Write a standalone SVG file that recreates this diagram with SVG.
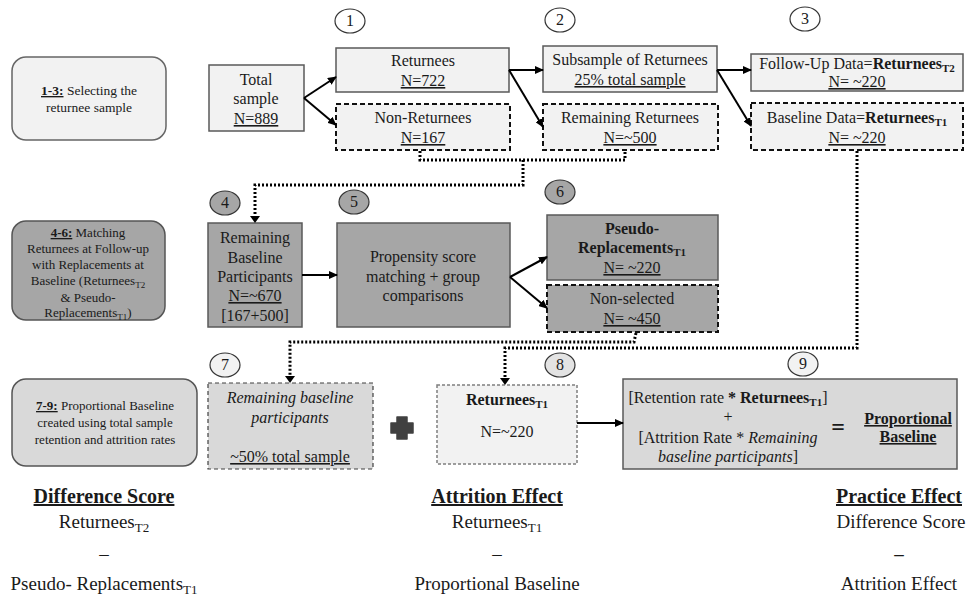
<svg xmlns="http://www.w3.org/2000/svg" width="977" height="596" viewBox="0 0 977 596" font-family="'Liberation Serif', 'Times New Roman', serif">
<defs>
<marker id="ah" markerUnits="userSpaceOnUse" markerWidth="9" markerHeight="8" refX="8" refY="4" orient="auto"><path d="M0,0 L9,4 L0,8 z" fill="#000"/></marker>
<style>
text{font-family:'Liberation Serif','Times New Roman',serif;fill:#1a1a1a;text-anchor:middle}
.t16{font-size:16px;font-family:'Liberation Serif',serif}
.t13{font-size:13px;font-family:'Liberation Serif',serif}
.b{font-weight:bold}
.i{font-style:italic}
.u{text-decoration:underline}
.box{stroke:#595959;stroke-width:1.5}
.dash{stroke:#111;stroke-width:2;stroke-dasharray:5 3}
.light{fill:#f2f2f2}
.mid{fill:#a6a6a6}
.pale{fill:#d9d9d9}
.circ{stroke:#333;stroke-width:1.2}
.arrow{stroke:#000;stroke-width:2;fill:none;marker-end:url(#ah)}
.dot{stroke:#000;stroke-width:3;stroke-dasharray:2 2;fill:none}
.big{font-size:20px;font-weight:bold;font-family:'Liberation Serif',serif}
.reg{font-size:19px;font-family:'Liberation Serif',serif}
</style>
</defs>

<!-- Row labels -->
<g id="label13">
<rect x="12" y="57" width="154" height="83" rx="14" class="light" stroke="#666" stroke-width="1.5"/>
<text x="89" y="95" style="font-size:13.5px"><tspan class="b u">1-3:</tspan> Selecting the</text>
<text x="89" y="112" style="font-size:13.5px">returnee sample</text>
</g>
<g id="label46">
<rect x="12" y="221" width="153" height="99" rx="14" class="mid" stroke="#555" stroke-width="1.5"/>
<text x="88" y="237" class="t13"><tspan class="b u">4-6:</tspan> Matching</text>
<text x="88" y="253" class="t13">Returnees at Follow-up</text>
<text x="88" y="269" class="t13">with Replacements at</text>
<text x="88" y="285" class="t13">Baseline (Returnees<tspan style="font-size:9px" dy="3">T2</tspan></text>
<text x="88" y="302" class="t13">&amp; Pseudo-</text>
<text x="88" y="317" class="t13">Replacements<tspan style="font-size:9px" dy="3">T1</tspan><tspan dy="-3">)</tspan></text>
</g>
<g id="label79">
<rect x="12" y="379" width="185" height="87" rx="14" class="pale" stroke="#555" stroke-width="1.5"/>
<text x="105" y="410" class="t13"><tspan class="b u">7-9:</tspan> Proportional Baseline</text>
<text x="105" y="427" class="t13">created using total sample</text>
<text x="105" y="444" class="t13">retention and attrition rates</text>
</g>

<!-- Step circles -->
<g id="circles">
<ellipse cx="350" cy="21" rx="15" ry="12" fill="#fff" class="circ"/><text x="350" y="26" class="t16">1</text>
<ellipse cx="560" cy="20" rx="15" ry="12" fill="#fff" class="circ"/><text x="560" y="25" class="t16">2</text>
<ellipse cx="805" cy="19" rx="15" ry="12" fill="#fff" class="circ"/><text x="805" y="24" class="t16">3</text>
<ellipse cx="225" cy="203" rx="15" ry="12" class="mid circ"/><text x="225" y="208" class="t16">4</text>
<ellipse cx="354" cy="202" rx="15" ry="12" class="mid circ"/><text x="354" y="207" class="t16">5</text>
<ellipse cx="560" cy="192" rx="15" ry="12" class="mid circ"/><text x="560" y="197" class="t16">6</text>
<ellipse cx="225" cy="365" rx="15" ry="12" fill="#f2f2f2" class="circ"/><text x="225" y="370" class="t16">7</text>
<ellipse cx="560" cy="365" rx="15" ry="12" fill="#e3e3e3" class="circ"/><text x="560" y="370" class="t16">8</text>
<ellipse cx="803" cy="364" rx="15" ry="12" fill="#f2f2f2" class="circ"/><text x="803" y="369" class="t16">9</text>
</g>

<!-- Row 1 nodes -->
<g id="total">
<rect x="209" y="65" width="95" height="66" class="light box"/>
<text x="256" y="85" class="t16">Total</text>
<text x="256" y="104" class="t16">sample</text>
<text x="256" y="124" class="t16 u">N=889</text>
</g>
<g id="returnees">
<rect x="336" y="48" width="173" height="44" class="light box"/>
<text x="423" y="66" class="t16">Returnees</text>
<text x="423" y="86" class="t16 u">N=722</text>
</g>
<g id="nonreturnees">
<rect x="336" y="104" width="174" height="46" class="light dash"/>
<text x="423" y="123" class="t16">Non-Returnees</text>
<text x="423" y="143" class="t16 u">N=167</text>
</g>
<g id="subsample">
<rect x="543" y="46" width="174" height="46" class="light box"/>
<text x="630" y="65" class="t16">Subsample of Returnees</text>
<text x="630" y="85" class="t16 u">25% total sample</text>
</g>
<g id="remainingreturnees">
<rect x="543" y="104" width="175" height="46" class="light dash"/>
<text x="630" y="123" class="t16">Remaining Returnees</text>
<text x="630" y="143" class="t16 u">N=~500</text>
</g>
<g id="followup">
<rect x="751" y="54" width="212" height="37" class="light box"/>
<text x="857" y="69" class="t16">Follow-Up Data=<tspan class="b">Returnees</tspan><tspan class="b" style="font-size:11px" dy="3">T2</tspan></text>
<text x="857" y="87" class="t16 u">N= ~220</text>
</g>
<g id="baselinedata">
<rect x="751" y="103" width="212" height="47" class="light dash"/>
<text x="857" y="123" class="t16">Baseline Data=<tspan class="b">Returnees</tspan><tspan class="b" style="font-size:11px" dy="3">T1</tspan></text>
<text x="857" y="143" class="t16 u">N= ~220</text>
</g>

<!-- Row 2 nodes -->
<g id="remainingbaseline">
<rect x="208" y="223" width="94" height="104" class="mid box"/>
<text x="255" y="243" class="t16">Remaining</text>
<text x="255" y="263" class="t16">Baseline</text>
<text x="255" y="282" class="t16">Participants</text>
<text x="255" y="301" class="t16 u">N=~670</text>
<text x="255" y="321" class="t16">[167+500]</text>
</g>
<g id="propensity">
<rect x="337" y="223" width="173" height="104" class="mid box"/>
<text x="423" y="262" class="t16">Propensity score</text>
<text x="423" y="282" class="t16">matching + group</text>
<text x="423" y="301" class="t16">comparisons</text>
</g>
<g id="pseudo">
<rect x="547" y="215" width="171" height="65" class="mid box"/>
<text x="632" y="234" class="t16 b">Pseudo-</text>
<text x="632" y="253" class="t16 b">Replacements<tspan style="font-size:11px" dy="3">T1</tspan></text>
<text x="632" y="273" class="t16 u">N= ~220</text>
</g>
<g id="nonselected">
<rect x="547" y="285" width="171" height="47" class="mid dash"/>
<text x="632" y="304" class="t16">Non-selected</text>
<text x="632" y="324" class="t16 u">N= ~450</text>
</g>

<!-- Row 3 nodes -->
<g id="remainingparticipants">
<rect x="208" y="383" width="165" height="86" class="pale" stroke="#404040" stroke-width="1.2" stroke-dasharray="4 3"/>
<text x="290" y="403" class="t16 i">Remaining baseline</text>
<text x="290" y="423" class="t16 i">participants</text>
<text x="290" y="462" class="t16 u">~50% total sample</text>
</g>
<g id="plus">
<path d="M397,417 h10 v6 h6 v10 h-6 v6 h-10 v-6 h-6 v-10 h6 z" fill="#404040" stroke="#404040" stroke-width="1.5" stroke-linejoin="round"/>
</g>
<g id="returneesT1">
<rect x="437" y="385" width="140" height="79" class="light" stroke="#7f7f7f" stroke-width="1.5" stroke-dasharray="3 2"/>
<text x="507" y="405" class="t16 b">Returnees<tspan style="font-size:11px" dy="3">T1</tspan></text>
<text x="507" y="437" class="t16">N=~220</text>
</g>
<g id="formula">
<rect x="623" y="379" width="334" height="90" class="pale box"/>
<text x="728" y="403" class="t16">[Retention rate <tspan class="b">* Returnees</tspan><tspan class="b" style="font-size:11px" dy="3">T1</tspan><tspan dy="-3">]</tspan></text>
<text x="728" y="422" class="t16">+</text>
<text x="728" y="443" class="t16">[Attrition Rate * <tspan class="i">Remaining</tspan></text>
<text x="728" y="462" class="t16"><tspan class="i">baseline participants</tspan>]</text>
<text x="838" y="435" style="font-size:24px;font-weight:bold">=</text>
<text x="908" y="424" class="t16 b u">Proportional</text>
<text x="908" y="442" class="t16 b u">Baseline</text>
</g>

<!-- Connectors -->
<g id="connectors">
<line x1="304" y1="98" x2="336" y2="77" class="arrow"/>
<line x1="304" y1="98" x2="336" y2="125" class="arrow"/>
<line x1="509" y1="70" x2="543" y2="70" class="arrow"/>
<line x1="509" y1="70" x2="543" y2="127" class="arrow"/>
<line x1="717" y1="70" x2="751" y2="70" class="arrow"/>
<line x1="717" y1="70" x2="751" y2="126" class="arrow"/>
<line x1="302" y1="275" x2="337" y2="275" class="arrow"/>
<line x1="510" y1="277" x2="547" y2="257" class="arrow"/>
<line x1="510" y1="277" x2="547" y2="308" class="arrow"/>
<line x1="577" y1="423" x2="623" y2="423" class="arrow"/>
<path d="M420,151 V160 H625 V151" class="dot"/>
<path d="M523,160 V185 H255 V217" class="dot"/>
<path d="M636,333 L634,342 H290 V377" class="dot"/>
<path d="M857,151 V348 H505 V379" class="dot"/>
<path d="M250,216 L255,223 L260,216 z" fill="#000"/>
<path d="M285,376 L290,383 L295,376 z" fill="#000"/>
<path d="M500,378 L505,385 L510,378 z" fill="#000"/>
</g>

<!-- Bottom equations -->
<g id="difference">
<text x="104" y="503" class="big u">Difference Score</text>
<text x="104" y="528" class="reg">Returnees<tspan style="font-size:13px" dy="4">T2</tspan></text>
<text x="104" y="560" class="reg">–</text>
<text x="104" y="590" class="reg">Pseudo- Replacements<tspan style="font-size:13px" dy="4">T1</tspan></text>
</g>
<g id="attrition">
<text x="497" y="503" class="big u">Attrition Effect</text>
<text x="497" y="528" class="reg">Returnees<tspan style="font-size:13px" dy="4">T1</tspan></text>
<text x="497" y="560" class="reg">–</text>
<text x="497" y="590" class="reg">Proportional Baseline</text>
</g>
<g id="practice">
<text x="899" y="503" class="big u">Practice Effect</text>
<text x="901" y="528" class="reg">Difference Score</text>
<text x="899" y="560" class="reg b">–</text>
<text x="899" y="590" class="reg">Attrition Effect</text>
</g>
</svg>
